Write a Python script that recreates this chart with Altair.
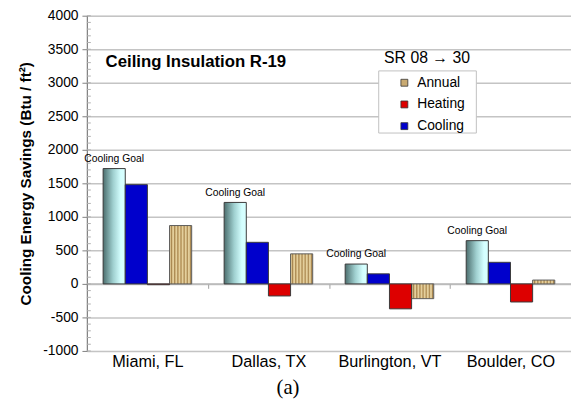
import altair as alt
import pandas as pd

cities = ["Miami, FL", "Dallas, TX", "Burlington, VT", "Boulder, CO"]
goal = [1720, 1215, 296, 645]
cooling = [1480, 620, 150, 322]
heating = [-12, -180, -372, -270]
annual = [870, 448, -220, 57]
series_order = ["Goal", "Cooling", "Heating", "Annual"]
legend_series = ["Annual", "Heating", "Cooling"]
legend_colors = ["#c9aa72", "#dd0000", "#0000cc"]
y_ticks = [-1000, -500, 0, 500, 1000, 1500, 2000, 2500, 3000, 3500, 4000]
minor_ticks = list(range(-1000, 4001, 100))

rows = []
for i, c in enumerate(cities):
    rows.append({"city": c, "series": "Goal", "value": goal[i], "label": "Cooling Goal"})
    rows.append({"city": c, "series": "Cooling", "value": cooling[i], "label": ""})
    rows.append({"city": c, "series": "Heating", "value": heating[i], "label": ""})
    rows.append({"city": c, "series": "Annual", "value": annual[i], "label": ""})
df = pd.DataFrame(rows)

FONT = "Liberation Sans"
Y_TITLE = "Cooling Energy Savings (Btu / ft²)"

x_enc = alt.X(
    "city:N", sort=cities, title=None,
    scale=alt.Scale(paddingInner=0, paddingOuter=0),
    axis=alt.Axis(
        orient="bottom", offset=-68.5, tickBand="extent", tickSize=5,
        tickColor="#a0a0a0", domainColor="#b8b8b8", domainWidth=1.5,
        labelFont=FONT, labelFontSize=16.5, labelColor="#000000",
        labelPadding=66, labelAngle=0,
    ),
)
xoff = alt.XOffset(
    "series:N", sort=series_order,
    scale=alt.Scale(domain=series_order, paddingInner=0, paddingOuter=0.733),
)
y_scale = alt.Scale(domain=[-1000, 4000], nice=False, zero=False)
y_axis = alt.Axis(
    values=y_ticks, labelExpr="'' + datum.value", labelOverlap=False, tickSize=5,
    tickColor="#808080", domainColor="#808080",
    domainWidth=1.2, gridColor="#c4c4c4", gridWidth=1.5, labelFont=FONT,
    labelFontSize=14, labelColor="#000000", labelPadding=4,
    titleFont=FONT, titleFontSize=15.5, titleFontWeight="bold",
    titleColor="#000000", titlePadding=9,
)
y_enc = alt.Y("value:Q", title=Y_TITLE, scale=y_scale, axis=y_axis)

base = alt.Chart(df)

goal_grad = alt.Gradient(
    gradient="linear", x1=0, x2=1, y1=0, y2=0,
    stops=[
        alt.GradientStop(color="#4c6e6e", offset=0),
        alt.GradientStop(color="#9fcfcf", offset=0.45),
        alt.GradientStop(color="#d4ffff", offset=0.8),
        alt.GradientStop(color="#d8ffff", offset=1),
    ],
)

tex_stops = []
n_stripes = 7
for k in range(n_stripes):
    a = k / n_stripes
    b = (k + 0.5) / n_stripes
    tex_stops.append(alt.GradientStop(color="#e4cf9c", offset=a))
    tex_stops.append(alt.GradientStop(color="#e4cf9c", offset=a + 0.25 / n_stripes))
    tex_stops.append(alt.GradientStop(color="#a8864f", offset=b + 0.1 / n_stripes))
    tex_stops.append(alt.GradientStop(color="#c9ab72", offset=b + 0.35 / n_stripes))
annual_tex = alt.Gradient(gradient="linear", x1=0, x2=1, y1=0, y2=0, stops=tex_stops)

minor = alt.Chart(pd.DataFrame({"t": minor_ticks})).mark_rule(
    color="#b0b0b0", strokeWidth=1
).encode(
    y=alt.Y("t:Q", title=Y_TITLE, scale=y_scale, axis=y_axis),
    x=alt.value(0), x2=alt.value(4),
)

goal_bars = base.transform_filter(alt.datum.series == "Goal").mark_bar(
    fill=goal_grad, stroke="#3a3a3a", strokeWidth=1
).encode(x=x_enc, xOffset=xoff, y=y_enc)

annual_bars = base.transform_filter(alt.datum.series == "Annual").mark_bar(
    fill=annual_tex, stroke="#5a5a5a", strokeWidth=1
).encode(x=x_enc, xOffset=xoff, y=y_enc)

other_bars = base.transform_filter(
    (alt.datum.series == "Cooling") | (alt.datum.series == "Heating")
).mark_bar(stroke="#3a3a3a", strokeWidth=1, opacity=1).encode(
    x=x_enc, xOffset=xoff, y=y_enc,
    color=alt.Color(
        "series:N",
        scale=alt.Scale(domain=legend_series, range=legend_colors),
        legend=alt.Legend(
            title=None, orient="none", legendX=315, legendY=61,
            symbolType="square", symbolSize=49, symbolStrokeColor="#333333",
            symbolStrokeWidth=0.8, labelFont=FONT, labelFontSize=14,
            labelColor="#000000", labelOffset=6, rowPadding=8, padding=0,
            values=legend_series,
        ),
    ),
)

goal_labels = base.transform_filter(alt.datum.series == "Goal").mark_text(
    font=FONT, fontSize=10.5, color="#000000", baseline="middle", dy=-10
).encode(x=x_enc, xOffset=xoff, y=y_enc, text="label:N")

one = pd.DataFrame({"k": [0]})
legend_box = alt.Chart(one).mark_rect(
    fill="#ffffff", stroke="#c0c0c0", strokeWidth=1
).encode(x=alt.value(296), x2=alt.value(395), y=alt.value(56), y2=alt.value(119))

title_txt = alt.Chart(one).mark_text(
    text="Ceiling Insulation R-19", font=FONT, fontSize=17, fontWeight="bold",
    align="left", baseline="middle", color="#000000"
).encode(x=alt.value(19), y=alt.value(47))

sr_txt = alt.Chart(one).mark_text(
    text="SR 08 → 30", font=FONT, fontSize=16, align="center",
    baseline="middle", color="#000000"
).encode(x=alt.value(345), y=alt.value(43))

a_txt = alt.Chart(one).mark_text(
    text="(a)", font="Liberation Serif", fontSize=21, align="center",
    baseline="middle", color="#000000"
).encode(x=alt.value(204), y=alt.value(378))

chart = alt.layer(
    minor, goal_bars, annual_bars, other_bars, goal_labels, legend_box,
    title_txt, sr_txt, a_txt
).properties(
    width=491, height=340,
    autosize=alt.AutoSizeParams(type="none"),
    padding={"left": 80, "top": 5, "right": 0, "bottom": 51},
).configure_view(
    stroke="#909090", strokeWidth=1.2
).configure(background="#ffffff")

chart.save("out.html", embed_options={"renderer": "svg", "actions": False})
